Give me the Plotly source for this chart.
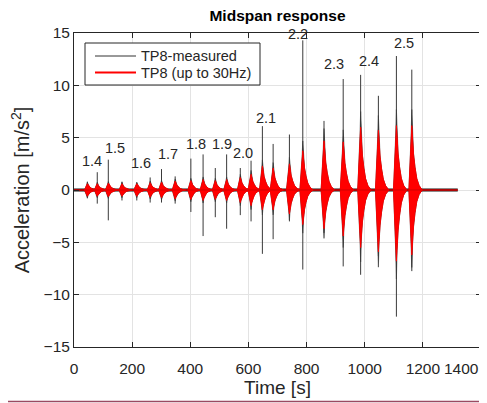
import plotly.graph_objects as go

# ---------------- data ----------------
BURST_T = [46, 80, 118, 165, 216, 262, 301, 348, 402, 444, 486, 525,
           572, 609, 648, 685, 741, 787, 860, 926, 986, 1047, 1109, 1162]
MEAS_MAX = [0.8, 1.7, 2.9, 0.8, 0.7, 1.2, 2.0, 1.3, 3.0, 3.4, 2.1, 3.4,
            2.1, 2.8, 6.1, 4.4, 5.3, 14.3, 6.6, 10.6, 11.0, 9.0, 12.8, 11.5]
MEAS_MIN = [-0.8, -1.3, -2.9, -1.0, -1.0, -1.2, -1.2, -1.3, -2.1, -4.4, -2.6, -3.7,
            -2.4, -3.0, -6.1, -4.7, -3.0, -7.6, -4.1, -7.3, -8.1, -6.3, -12.1, -7.4]
FILT_MAX = [0.6, 0.6, 0.65, 0.6, 0.6, 0.7, 0.75, 0.85, 0.9, 1.0, 0.9, 1.0,
            1.2, 1.5, 2.3, 2.1, 2.5, 3.75, 4.7, 4.6, 6.0, 5.7, 6.15, 6.15]
FILT_MIN = [-0.6, -0.6, -0.65, -0.6, -0.6, -0.7, -0.75, -0.85, -0.9, -1.0, -0.9, -1.0,
            -1.2, -1.5, -1.9, -1.9, -2.3, -3.3, -3.7, -4.4, -5.5, -5.9, -6.8, -6.2]
RECORD_END = 1320

SPEED_LABELS = ["1.4", "1.5", "1.6", "1.7", "1.8", "1.9", "2.0", "2.1", "2.2", "2.3", "2.4", "2.5"]
SPEED_LABEL_X = [62, 141, 231, 324, 421, 510, 583, 659, 769, 893, 1014, 1134]
SPEED_LABEL_Y = [2.8, 4.0, 2.6, 3.4, 4.4, 4.4, 3.5, 6.9, 14.9, 12.0, 12.3, 14.0]

SERIES_NAMES = ["TP8-measured", "TP8 (up to 30Hz)"]
X_TICKS = [0, 200, 400, 600, 800, 1000, 1200, 1400]
Y_TICKS = [-15, -10, -5, 0, 5, 10, 15]

# ---------------- burst envelope shape (style) ----------------
ENV_DT = [-10, -6, -2.5, 0, 2.5, 6, 11, 17, 25, 36]
RED_FRAC = [0, 0.3, 0.75, 1.0, 0.8, 0.55, 0.35, 0.18, 0.07, 0]
BLK_FRAC = [0, 0.35, 0.85, 1.25, 0.85, 0.57, 0.36, 0.18, 0.07, 0]


def envelopes(frac):
    xs, ys = [], []
    for t, hi, lo in zip(BURST_T, FILT_MAX, FILT_MIN):
        up_x = [t + d for d in ENV_DT]
        up_y = [f * hi for f in frac]
        lo_x = up_x[::-1]
        lo_y = [f * lo for f in frac][::-1]
        xs += up_x + lo_x + [None]
        ys += up_y + lo_y + [None]
    return xs, ys


spike_x, spike_y = [], []
for t, hi, lo in zip(BURST_T, MEAS_MAX, MEAS_MIN):
    spike_x += [t, t, None]
    spike_y += [hi, lo, None]

FONT = "Liberation Sans, Arial, sans-serif"
DARK = "#262626"
BLACK_LINE = "#333333"
RED = "#ff0000"

# page has an 8px body margin: figure is sized to fit the remaining window
W, H = 479, 395
ML, MR, MT, MB = 66, 6, 25, 56
PW, PH = W - ML - MR, H - MT - MB


def px_x(px):  # page pixel -> paper x
    return (px - 8 - ML) / PW


def px_y(py):  # page pixel -> paper y
    return (MT + PH - (py - 8)) / PH


fig = go.Figure()

# measured (black): baseline, dense part, spikes
fig.add_trace(go.Scatter(x=[0, RECORD_END], y=[0, 0], mode="lines",
                         line=dict(color="#1a1a1a", width=3), showlegend=False, hoverinfo="skip"))
bx, by = envelopes(BLK_FRAC)
fig.add_trace(go.Scatter(x=bx, y=by, mode="lines", fill="toself", fillcolor="#1a1a1a",
                         line=dict(color="#1a1a1a", width=0.5), showlegend=False, hoverinfo="skip"))
fig.add_trace(go.Scatter(x=spike_x, y=spike_y, mode="lines", name=SERIES_NAMES[0],
                         line=dict(color="#3a3a3a", width=1), showlegend=False, hoverinfo="skip"))

# filtered (red)
rx, ry = envelopes(RED_FRAC)
fig.add_trace(go.Scatter(x=rx, y=ry, mode="lines", fill="toself", fillcolor=RED, name=SERIES_NAMES[1],
                         line=dict(color=RED, width=1), showlegend=False, hoverinfo="skip"))
fig.add_trace(go.Scatter(x=[0, RECORD_END], y=[0, 0], mode="lines",
                         line=dict(color="#e00000", width=1.5), showlegend=False, hoverinfo="skip"))

for txt, x, y in zip(SPEED_LABELS, SPEED_LABEL_X, SPEED_LABEL_Y):
    fig.add_annotation(x=x, y=y, text=txt, showarrow=False, xanchor="center", yanchor="middle",
                       font=dict(family=FONT, size=14.5, color=DARK))

# legend box (drawn to match the compact MATLAB legend)
fig.add_shape(type="rect", xref="paper", yref="paper",
              x0=px_x(85), x1=px_x(260), y0=px_y(85), y1=px_y(43),
              line=dict(color=DARK, width=1), fillcolor="white", layer="above")
for i, (name, col, lw) in enumerate(zip(SERIES_NAMES, [BLACK_LINE, RED], [1, 2])):
    yy = px_y(56 + i * 16.5)
    fig.add_shape(type="line", xref="paper", yref="paper", x0=px_x(95), x1=px_x(136),
                  y0=yy, y1=yy, line=dict(color=col, width=lw), layer="above")
    fig.add_annotation(xref="paper", yref="paper", x=px_x(139), y=yy, text=name,
                       showarrow=False, xanchor="left", yanchor="middle",
                       font=dict(family=FONT, size=14.5, color=DARK))

# last x tick label is right-aligned to the axis end (as MATLAB does)
fig.add_annotation(xref="paper", yref="paper", x=1, y=px_y(368), text=str(X_TICKS[-1]),
                   showarrow=False, xanchor="right", yanchor="middle",
                   font=dict(family=FONT, size=15.5, color=DARK))

axis_common = dict(showline=True, linecolor=DARK, linewidth=1, mirror="ticks",
                   ticks="inside", ticklen=5, tickcolor=DARK, showgrid=True,
                   gridcolor="#e3e3e3", gridwidth=1, zeroline=False, automargin=False,
                   tickfont=dict(family=FONT, size=15.5, color=DARK))

fig.update_layout(
    width=W, height=H,
    paper_bgcolor="white", plot_bgcolor="white",
    margin=dict(l=ML, r=MR, t=MT, b=MB),
    font=dict(family=FONT, color=DARK),
    showlegend=False,
    title=dict(text="<b>Midspan response</b>", x=0.5, xref="paper", xanchor="center",
               y=1 - 8 / H, yref="container", yanchor="middle",
               font=dict(family=FONT, size=15.5, color="#000000")),
    xaxis=dict(range=[0, 1400], tickvals=X_TICKS[:-1], ticklabelstandoff=7,
               title=dict(text="Time [s]", font=dict(family=FONT, size=19, color=DARK), standoff=4),
               **axis_common),
    yaxis=dict(range=[-15, 15], tickvals=Y_TICKS,
               title=dict(text="Acceleration [m/s<sup>2</sup>]", font=dict(family=FONT, size=20, color=DARK),
                          standoff=11),
               **axis_common),
)

fig.add_shape(type="line", xref="paper", yref="paper", x0=-ML / PW, x1=1 + MR / PW,
              y0=px_y(401.5), y1=px_y(401.5),
              line=dict(color="#9b4a62", width=1.5))

fig.write_html("out.html")
